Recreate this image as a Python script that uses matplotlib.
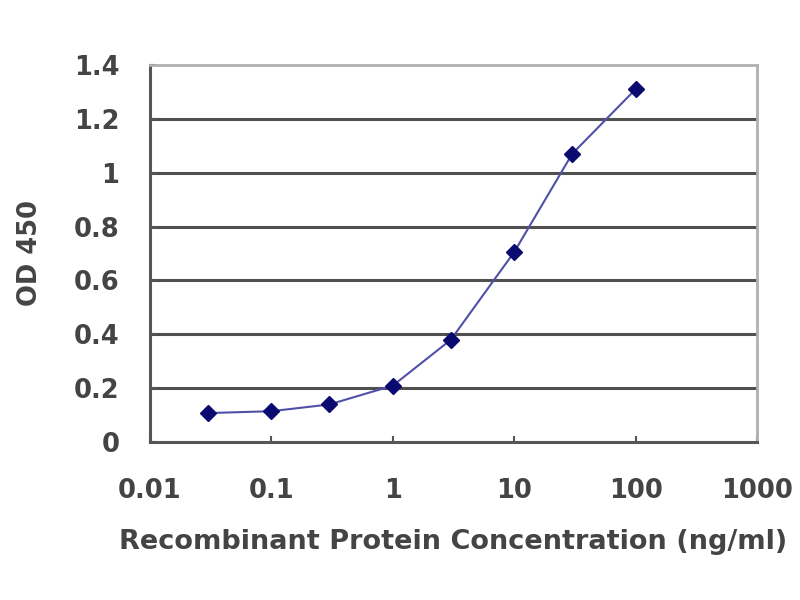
import matplotlib
matplotlib.use('Agg')
import matplotlib.pyplot as plt
from matplotlib.ticker import FixedLocator, FixedFormatter, NullLocator

# concentration (ng/ml) and OD 450 readings
conc = [0.03, 0.1, 0.3, 1, 3, 10, 30, 100]
od450 = [0.108, 0.115, 0.14, 0.21, 0.38, 0.706, 1.07, 1.31]

xticks = [0.01, 0.1, 1, 10, 100, 1000]
xticklabels = ['0.01', '0.1', '1', '10', '100', '1000']
yticks = [0, 0.2, 0.4, 0.6, 0.8, 1, 1.2, 1.4]
yticklabels = ['0', '0.2', '0.4', '0.6', '0.8', '1', '1.2', '1.4']

txt = '#444444'
plt.rcParams['font.family'] = ['DejaVu Sans']
plt.rcParams['font.weight'] = 'bold'
plt.rcParams['axes.labelweight'] = 'bold'

fig = plt.figure(figsize=(8, 6), dpi=100)
ax = fig.add_axes([0.1875, 0.263, 0.759, 0.629])

ax.plot(conc, od450, color='#5050a8', lw=1.5, marker='D', ms=8,
        mfc='#0a0a70', mec='#0a0a70', zorder=3)

ax.set_xscale('log')
ax.set_xlim(0.01, 1000)
ax.set_ylim(0, 1.4)
ax.xaxis.set_major_locator(FixedLocator(xticks))
ax.xaxis.set_major_formatter(FixedFormatter(xticklabels))
ax.xaxis.set_minor_locator(NullLocator())
ax.set_yticks(yticks)
ax.set_yticklabels(yticklabels)

for y in yticks[1:-1]:
    ax.axhline(y, color='#505050', lw=2.2, zorder=1)

for s in ['left', 'bottom']:
    ax.spines[s].set_color('#555555')
    ax.spines[s].set_linewidth(2.2)
for s in ['top', 'right']:
    ax.spines[s].set_color('#b0b0b0')
    ax.spines[s].set_linewidth(2)

ax.tick_params(axis='both', colors='#555555', labelcolor=txt, labelsize=18.5,
               length=4, width=1.5, direction='in')
ax.tick_params(axis='x', pad=26)
ax.tick_params(axis='y', pad=22)

ax.set_xlabel('Recombinant Protein Concentration (ng/ml)', fontsize=19.5,
              color=txt, labelpad=18)
ax.set_ylabel('OD 450', fontsize=18.5, color=txt, labelpad=22)

fig.savefig('out.png', dpi=100)
